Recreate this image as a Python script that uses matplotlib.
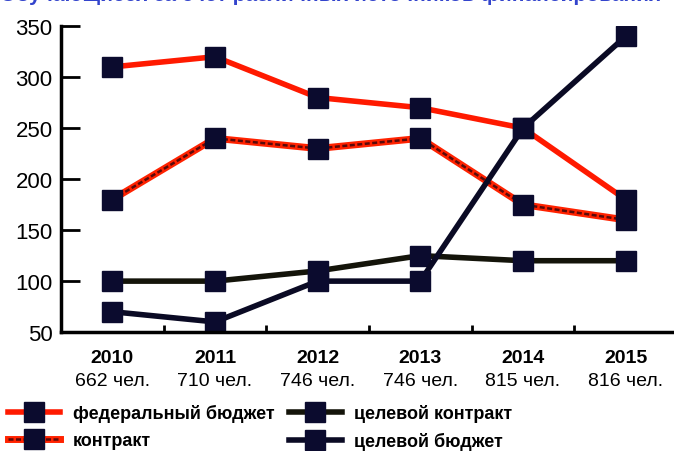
import matplotlib
matplotlib.use("Agg")
import matplotlib.pyplot as plt
from matplotlib.ticker import FixedLocator
from matplotlib.legend_handler import HandlerTuple

plt.rcParams['font.family'] = ['Liberation Sans', 'DejaVu Sans']

# Data
years = ['2010', '2011', '2012', '2013', '2014', '2015']
people = ['662 чел.', '710 чел.', '746 чел.', '746 чел.', '815 чел.', '816 чел.']
federal = [310, 320, 280, 270, 250, 180]
contract = [180, 240, 230, 240, 175, 160]
target_contract = [100, 100, 110, 125, 120, 120]
target_budget = [70, 60, 100, 100, 250, 340]
title = 'Обучающиеся за счет различных источников финансирования'

x = list(range(len(years)))
mk = dict(marker='s', markersize=14, markerfacecolor='#0b0b2e', markeredgecolor='#0b0b2e')

fig = plt.figure(figsize=(6.74, 4.52), dpi=100)
ax = fig.add_axes([0.0905, 0.263, 0.914, 0.677])

l1, = ax.plot(x, federal, color='#ff1a00', lw=4, **mk)
# "контракт": red line with a dark dotted core
l2a, = ax.plot(x, contract, color='#ff2200', lw=5)
l2b, = ax.plot(x, contract, color='#5a0a0a', lw=1.8, ls=(0, (2, 1)))
l2c, = ax.plot(x, contract, lw=0, **mk)
l3, = ax.plot(x, target_contract, color='#14140a', lw=4, **mk)
l4, = ax.plot(x, target_budget, color='#0a0a24', lw=4, **mk)

ax.set_xlim(-0.5, 5.5)
ax.set_ylim(50, 350)
ax.set_yticks([50, 100, 150, 200, 250, 300, 350])
ax.tick_params(axis='y', direction='in', length=14, width=2, labelsize=16, pad=6)
ax.set_xticks(x)
ax.set_xticklabels([])
ax.tick_params(axis='x', which='major', length=0)
ax.xaxis.set_minor_locator(FixedLocator([0.5, 1.5, 2.5, 3.5, 4.5]))
ax.tick_params(axis='x', which='minor', direction='in', length=5, width=2)

for s in ['top', 'right']:
    ax.spines[s].set_visible(False)
for s in ['left', 'bottom']:
    ax.spines[s].set_linewidth(2.5)

tr = ax.get_xaxis_transform()
for i in x:
    ax.text(i, -0.082, years[i], transform=tr, ha='center', va='center',
            fontsize=14, fontweight='bold')
    ax.text(i, -0.157, people[i], transform=tr, ha='center', va='center', fontsize=14)

fig.legend(handles=[l1, (l2a, l2b, l2c), l3, l4],
           labels=['федеральный бюджет', 'контракт', 'целевой контракт', 'целевой бюджет'],
           handler_map={tuple: HandlerTuple(ndivide=1, pad=0)},
           ncol=2, loc='upper left', bbox_to_anchor=(0.012, 0.104), frameon=False,
           prop={'size': 13, 'weight': 'bold'}, handlelength=2.9,
           handletextpad=0.7, columnspacing=0.8, labelspacing=0.55,
           borderaxespad=0, borderpad=0)

fig.text(0.0, 0.997, title, color='#3344cc', fontsize=15, fontweight='bold',
         ha='left', va='baseline')

fig.savefig('out.png', dpi=100)
